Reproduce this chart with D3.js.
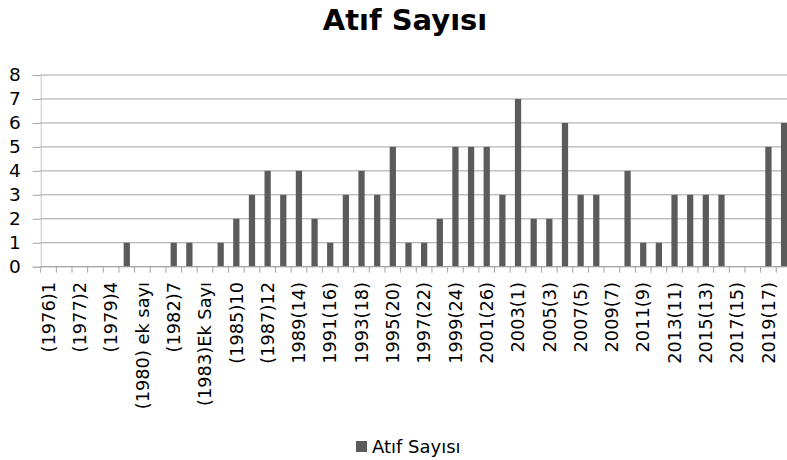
<!DOCTYPE html>
<html>
<head>
<meta charset="utf-8">
<script src="https://cdn.jsdelivr.net/npm/d3@7"></script>
<style>
  body { margin: 0; background: #fff; }
  svg { display: block; font-family: "DejaVu Sans", sans-serif; }
</style>
</head>
<body>
<svg id="chart" width="787" height="460"></svg>
<script>

// categories (issue labels), only every other one is printed on the axis
const categories = [
  "(1976)1", "(1976) ek sayı", "(1977)2", "(1978)3", "(1979)4", "(1980)5",
  "(1980) ek sayı", "(1981)6", "(1982)7", "(1983)8", "(1983)Ek Sayı", "(1984)9",
  "(1985)10", "(1986)11", "(1987)12", "(1988)13", "1989(14)", "1990(15)",
  "1991(16)", "1992(17)", "1993(18)", "1994(19)", "1995(20)", "1996(21)",
  "1997(22)", "1998(23)", "1999(24)", "2000(25)", "2001(26)", "2002(27)",
  "2003(1)", "2004(2)", "2005(3)", "2006(4)", "2007(5)", "2008(6)",
  "2009(7)", "2010(8)", "2011(9)", "2012(10)", "2013(11)", "2014(12)",
  "2015(13)", "2016(14)", "2017(15)", "2018(16)", "2019(17)", "2020(18)"
];

const values = [
  0, 0, 0, 0, 0, 1,
  0, 0, 1, 1, 0, 1,
  2, 3, 4, 3, 4, 2,
  1, 3, 4, 3, 5, 1,
  1, 2, 5, 5, 5, 3,
  7, 2, 2, 6, 3, 3,
  0, 4, 1, 1, 3, 3,
  3, 3, 0, 0, 5, 6
];

const yTicks = [0, 1, 2, 3, 4, 5, 6, 7, 8];

const seriesName = "Atıf Sayısı";
const title = "Atıf Sayısı";

const barColor = "#5b5b5b";
const gridColor = "#a3a3a3";

const svg = d3.select("#chart");

const margin = {left: 40.7, top: 75, bottom: 266.7};
const step = 15.65;

// the plot area runs past the right edge of the picture, as in the original
const x = d3.scaleBand()
  .domain(categories)
  .range([margin.left, margin.left + step * categories.length])
  .paddingInner(0.6)
  .paddingOuter(0.3);

const y = d3.scaleLinear()
  .domain([0, 8])
  .range([margin.bottom, margin.top]);

// title
svg.append("text")
  .attr("x", 405)
  .attr("y", 30)
  .attr("text-anchor", "middle")
  .attr("font-size", 29)
  .attr("font-weight", "bold")
  .attr("fill", "#000")
  .text(title);

// y tick labels + little outside ticks
const yAxis = svg.append("g")
  .attr("transform", `translate(${margin.left},0)`)
  .call(d3.axisLeft(y).tickValues(yTicks).tickSize(8).tickPadding(12).tickFormat(d3.format("d")));

yAxis.select(".domain").attr("stroke", "#c8c8c8");
yAxis.selectAll(".tick line").attr("stroke", gridColor);
yAxis.selectAll(".tick text")
  .attr("font-size", 18.5)
  .attr("font-family", "DejaVu Sans")
  .attr("fill", "#000");

// horizontal gridlines
svg.append("g")
  .selectAll("line")
  .data(yTicks)
  .join("line")
  .attr("x1", margin.left)
  .attr("x2", 800)
  .attr("y1", d => y(d))
  .attr("y2", d => y(d))
  .attr("stroke", gridColor)
  .attr("stroke-width", 1);

// bars
svg.append("g")
  .selectAll("rect")
  .data(values)
  .join("rect")
  .attr("x", (d, i) => x(categories[i]))
  .attr("y", d => y(d))
  .attr("width", x.bandwidth())
  .attr("height", d => y(0) - y(d))
  .attr("fill", barColor);

// x axis line and tick marks at category boundaries
const xg = svg.append("g");

xg.append("line")
  .attr("x1", margin.left)
  .attr("x2", 800)
  .attr("y1", y(0))
  .attr("y2", y(0))
  .attr("stroke", gridColor);

xg.selectAll("line.tk")
  .data(d3.range(categories.length + 1))
  .join("line")
  .attr("class", "tk")
  .attr("x1", i => margin.left + i * x.step())
  .attr("x2", i => margin.left + i * x.step())
  .attr("y1", y(0))
  .attr("y2", y(0) + 6)
  .attr("stroke", gridColor);

// labels, only every second category
xg.selectAll("text")
  .data(categories.filter((d, i) => i % 2 === 0))
  .join("text")
  .attr("transform", d => `translate(${x(d) + x.bandwidth() / 2},282) rotate(-90)`)
  .attr("text-anchor", "end")
  .attr("dy", "0.35em")
  .attr("font-size", 17.8)
  .attr("fill", "#000")
  .text(d => d);

// legend
const legend = svg.append("g").attr("transform", "translate(356,441)");

legend.append("rect")
  .attr("width", 11)
  .attr("height", 11)
  .attr("fill", barColor);

legend.append("text")
  .attr("x", 16)
  .attr("y", 12)
  .attr("font-size", 18)
  .attr("fill", "#000")
  .text(seriesName);

</script>
</body>
</html>
